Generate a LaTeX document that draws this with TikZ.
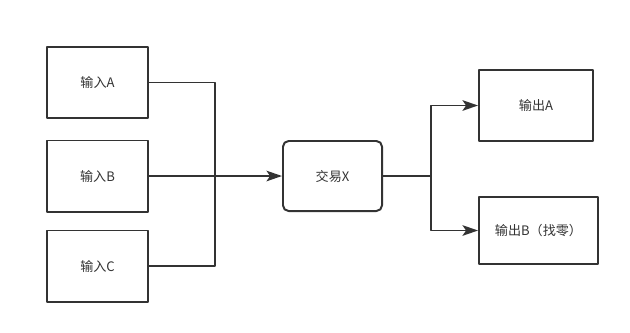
\documentclass[tikz,border=0pt]{standalone}
\usepackage{fontspec}
\setmainfont{Noto Sans CJK SC}
\usetikzlibrary{arrows.meta}

\begin{document}
\begin{tikzpicture}[x=0.025cm,y=-0.025cm,>={Stealth[length=11pt,width=7.5pt,inset=2.5pt]},
  line join=round,
  box/.style={draw=black!80,line width=1.4pt,minimum width=2.525cm,minimum height=1.775cm,
    font=\fontsize{9.3}{11}\selectfont,text=black!80},
  wire/.style={draw=black!80,line width=1.4pt}]
  \useasboundingbox (0,0) rectangle (630,332);
  % inputs
  \node[box] (inA) at (97.5,82.5){输入A};
  \node[box] (inB) at (97.5,176){输入B};
  \node[box] (inC) at (97.5,266){输入C};
  % transaction
  \node[box,rounded corners=4pt,minimum width=2.475cm,minimum height=1.75cm] (tx) at (332.5,176){交易X};
  % outputs
  \node[box,minimum width=2.85cm] (outA) at (536,105.5){输出A};
  \node[box,minimum width=2.975cm,minimum height=1.675cm] (outB) at (538.5,230.5){输出B（找零）};
  \coordinate (bus) at (215,176);
  \coordinate (split) at (431,176);
  \draw[wire] (inA.east) -| (bus);
  \draw[wire] (inC.east) -| (bus);
  \draw[wire,->] (inB.east) -- (tx.west);
  \draw[wire] (tx.east) -- (split);
  \draw[wire,->] (split) |- (outA.west);
  \draw[wire,->] (split) |- (outB.west);
\end{tikzpicture}
\end{document}
